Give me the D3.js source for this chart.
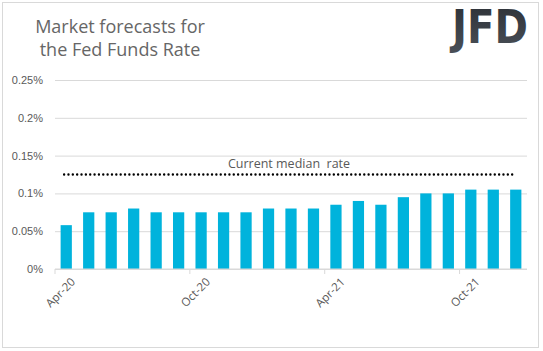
<!DOCTYPE html>
<html>
<head>
<meta charset="utf-8">
<script src="https://cdn.jsdelivr.net/npm/d3@7"></script>
<style>
  body { margin: 0; background: #fff; }
  svg { display: block; font-family: "Open Sans", "Noto Sans", sans-serif; }
</style>
</head>
<body>
<div id="container"></div>
<script>
// data
var months = ["Apr-20","May-20","Jun-20","Jul-20","Aug-20","Sep-20","Oct-20","Nov-20","Dec-20",
              "Jan-21","Feb-21","Mar-21","Apr-21","May-21","Jun-21","Jul-21","Aug-21","Sep-21",
              "Oct-21","Nov-21","Dec-21"];
var forecasts = [0.058,0.075,0.075,0.08,0.075,0.075,0.075,0.075,0.075,
                 0.08,0.08,0.08,0.085,0.09,0.085,0.095,0.1,0.1,
                 0.105,0.105,0.105];
var shownTicks = ["Apr-20","Oct-20","Apr-21","Oct-21"];
var yTicks = [0, 0.05, 0.1, 0.15, 0.2, 0.25];
var medianRate = 0.125;

var W = 543, H = 351;
var margin = {top: 80, right: 16, bottom: 82, left: 55},
    width = W - margin.left - margin.right,
    height = H - margin.top - margin.bottom;

var root = d3.select("#container")
  .append("svg")
    .attr("width", W)
    .attr("height", H);

// outer frame
root.append("rect")
  .attr("x", 2.5).attr("y", 2.5)
  .attr("width", 536).attr("height", 345)
  .attr("fill", "#fff")
  .attr("stroke", "#d9d9d9");

// title
root.append("text")
  .attr("x", 120).attr("y", 33)
  .attr("text-anchor", "middle")
  .attr("fill", "#666")
  .style("font-size", "18px")
  .text("Market forecasts for");
root.append("text")
  .attr("x", 120).attr("y", 56)
  .attr("text-anchor", "middle")
  .attr("fill", "#666")
  .style("font-size", "18px")
  .text("the Fed Funds Rate");

// logo
var grad = root.append("defs").append("linearGradient")
  .attr("id", "logoGrad").attr("x1", 0).attr("y1", 0).attr("x2", 0).attr("y2", 1);
grad.append("stop").attr("offset", "0%").attr("stop-color", "#2c3036");
grad.append("stop").attr("offset", "100%").attr("stop-color", "#4a5058");
root.append("text")
  .attr("x", 452).attr("y", 43)
  .attr("fill", "url(#logoGrad)")
  .style("font-family", "'DejaVu Sans', sans-serif")
  .style("font-weight", "bold")
  .style("font-size", "46px")
  .attr("textLength", 76)
  .attr("lengthAdjust", "spacingAndGlyphs")
  .text("JFD");

var svg = root.append("g")
  .attr("transform", "translate(" + margin.left + "," + margin.top + ")");

var x = d3.scaleBand()
  .domain(months)
  .range([0, width])
  .paddingInner(0.5)
  .paddingOuter(0.25);

var y = d3.scaleLinear()
  .domain([0, 0.25])
  .range([height, 0]);

// gridlines + y labels
svg.append("g")
  .call(d3.axisLeft(y).tickValues(yTicks).tickSize(-width)
    .tickFormat(function(d){ return d3.format("~g")(+d.toFixed(2)) + "%"; }))
  .call(function(g){
    g.select(".domain").remove();
    g.selectAll(".tick line").attr("stroke", "#d9d9d9");
    g.selectAll(".tick text")
      .attr("x", -12)
      .attr("fill", "#595959")
      .style("font-size", "11px");
  });

// bars
svg.append("g")
  .selectAll("rect")
  .data(forecasts)
  .enter()
  .append("rect")
    .attr("x", function(d, i){ return x(months[i]); })
    .attr("y", function(d){ return y(d); })
    .attr("width", x.bandwidth())
    .attr("height", function(d){ return height - y(d); })
    .attr("fill", "#00b3dc");

// x axis (ticks at band boundaries)
var step = x.step();
var xAxis = svg.append("g").attr("transform", "translate(0," + height + ")");
xAxis.append("line")
  .attr("x1", 0).attr("x2", width)
  .attr("stroke", "#d9d9d9");
xAxis.selectAll(".tk")
  .data(shownTicks)
  .enter()
  .append("line")
    .attr("x1", function(d){ return x(d) - step * 0.25; })
    .attr("x2", function(d){ return x(d) - step * 0.25; })
    .attr("y1", 0).attr("y2", 5)
    .attr("stroke", "#d9d9d9");
xAxis.selectAll(".lbl")
  .data(shownTicks)
  .enter()
  .append("text")
    .attr("transform", function(d){
      return "translate(" + (x(d) + x.bandwidth() / 2 + 4) + ",8) rotate(-45)";
    })
    .attr("text-anchor", "end")
    .attr("dy", "0.7em")
    .attr("fill", "#595959")
    .style("font-size", "11.5px")
    .text(function(d){ return d; });

// current median rate dotted line
svg.append("line")
  .attr("x1", x(months[0]) + 3.5)
  .attr("x2", x(months[months.length - 1]) + x.bandwidth() - 6)
  .attr("y1", y(medianRate))
  .attr("y2", y(medianRate))
  .attr("stroke", "#000")
  .attr("stroke-width", 2.4)
  .attr("stroke-linecap", "round")
  .attr("stroke-dasharray", "0,4.35");

svg.append("text")
  .attr("x", width / 2 - 2)
  .attr("y", y(medianRate) - 7)
  .attr("text-anchor", "middle")
  .attr("fill", "#595959")
  .style("font-size", "12.5px")
  .style("white-space", "pre")
  .text("Current median  rate");
</script>
</body>
</html>
